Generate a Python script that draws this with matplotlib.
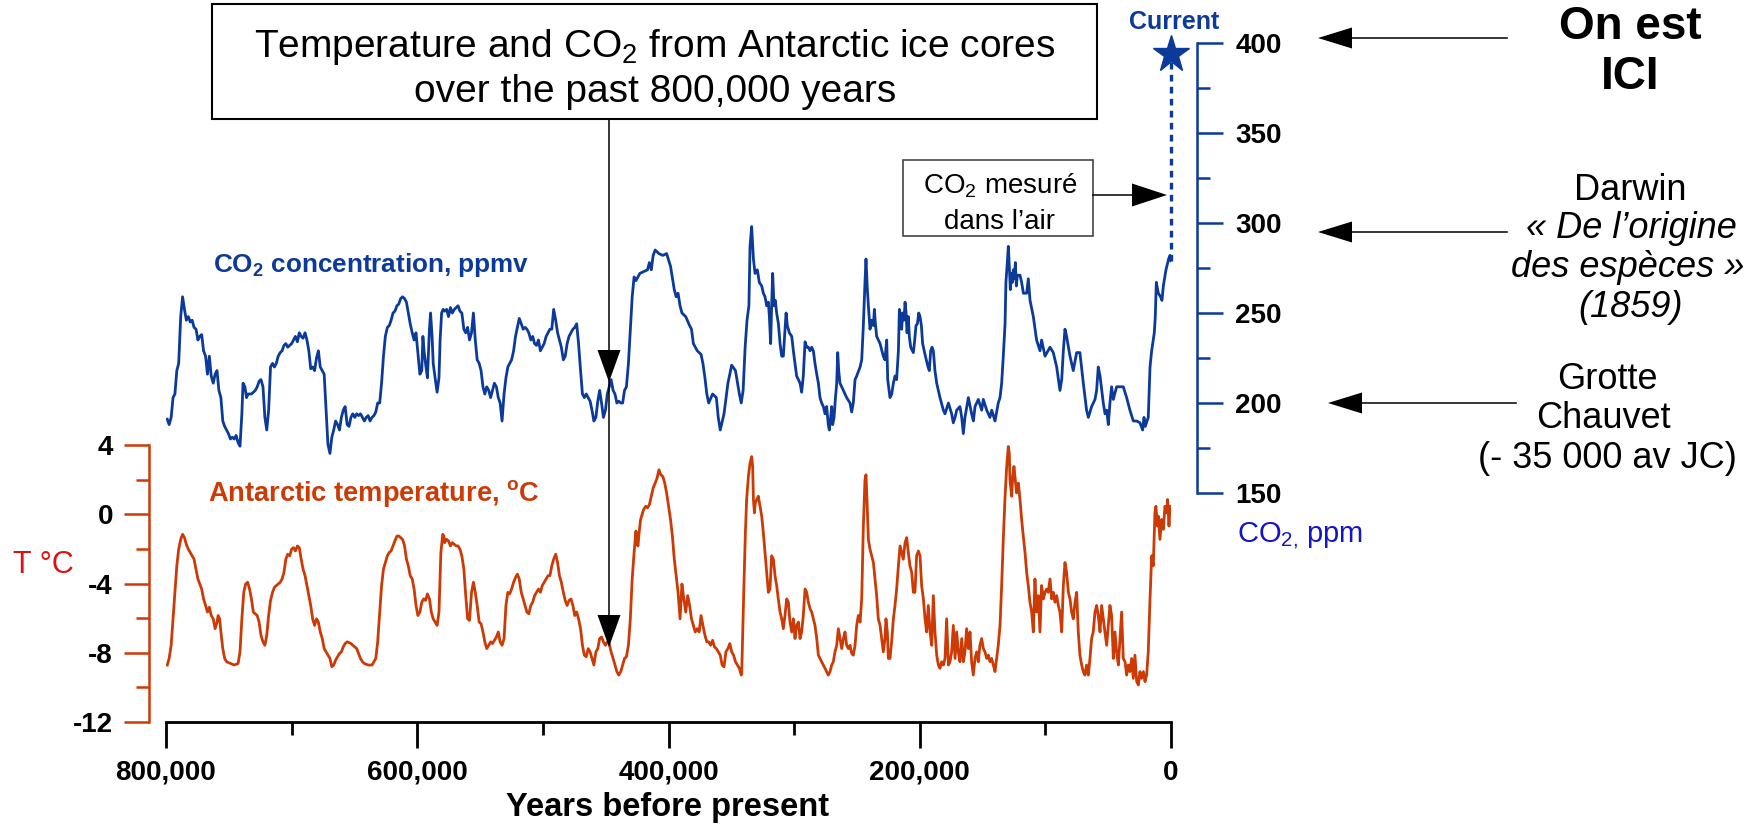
import numpy as np
import matplotlib.pyplot as plt
from matplotlib.patches import Polygon, Rectangle
from matplotlib.lines import Line2D
from matplotlib.ticker import FuncFormatter, MultipleLocator

plt.rcParams['font.family'] = ['Liberation Sans', 'DejaVu Sans']
plt.rcParams['mathtext.fontset'] = 'custom'
plt.rcParams['mathtext.rm'] = 'Liberation Sans'
plt.rcParams['mathtext.it'] = 'Liberation Sans:italic'
plt.rcParams['mathtext.bf'] = 'Liberation Sans:bold'
plt.rcParams['axes.unicode_minus'] = False

# CO2 from the ice cores, age in thousand years before present
co2_age_kyr = [
    799.0, 797.5, 795.9, 794.4, 792.9, 791.4, 789.9, 788.3, 786.8, 785.3,
    783.8, 782.2, 780.7, 779.2, 777.7, 776.1, 774.6, 773.1, 771.6, 770.1,
    768.5, 767.0, 765.5, 764.0, 762.4, 760.9, 759.4, 757.9, 756.3, 754.8,
    753.3, 751.8, 750.3, 748.7, 747.2, 745.7, 744.2, 742.6, 741.1, 739.6,
    738.7, 737.2, 735.9, 734.7, 733.5, 732.0, 730.5, 728.9, 727.4, 725.9,
    724.4, 722.8, 721.3, 719.8, 718.3, 716.8, 715.2, 713.7, 712.2, 710.7,
    709.1, 707.6, 706.1, 704.6, 703.1, 701.5, 700.0, 698.5, 697.0, 695.4,
    693.9, 692.4, 690.9, 689.3, 687.8, 686.3, 684.8, 683.3, 681.7, 680.2,
    678.7, 677.2, 675.6, 674.1, 672.6, 671.1, 669.5, 668.0, 666.5, 665.0,
    663.4, 661.9, 660.4, 658.9, 657.4, 655.8, 654.3, 652.8, 651.3, 649.7,
    648.2, 646.7, 645.2, 643.6, 642.1, 640.6, 639.1, 637.6, 636.0, 634.5,
    633.0, 631.5, 629.9, 628.4, 626.9, 625.4, 623.8, 622.3, 620.8, 619.3,
    617.8, 616.2, 614.7, 613.2, 611.7, 610.1, 608.6, 607.1, 605.6, 604.0,
    602.5, 601.0, 599.5, 597.9, 596.4, 595.5, 594.6, 593.4, 591.9, 590.3,
    589.4, 588.2, 587.3, 585.8, 584.2, 582.7, 581.8, 580.6, 579.4, 578.2,
    576.6, 575.1, 573.6, 572.1, 570.5, 569.0, 567.5, 566.0, 564.5, 562.9,
    561.4, 559.9, 558.4, 556.8, 555.3, 553.8, 552.3, 550.7, 549.2, 547.7,
    546.2, 544.7, 543.1, 541.6, 540.1, 538.6, 537.0, 535.5, 534.0, 532.5,
    530.9, 529.4, 527.9, 526.4, 524.9, 523.3, 521.8, 520.3, 518.8, 517.2,
    515.7, 514.2, 512.7, 511.2, 509.6, 508.1, 506.6, 505.1, 503.5, 502.0,
    500.5, 499.0, 497.4, 495.9, 494.4, 492.9, 491.4, 489.8, 488.3, 486.8,
    485.3, 483.7, 482.2, 480.7, 479.2, 477.6, 476.1, 474.6, 473.1, 471.6,
    470.0, 468.5, 467.0, 465.5, 463.9, 462.4, 460.9, 459.4, 457.8, 456.3,
    454.8, 453.3, 451.8, 450.2, 448.7, 447.2, 445.7, 444.1, 442.6, 441.1,
    439.6, 438.0, 436.5, 435.0, 433.5, 431.9, 430.4, 428.9, 427.4, 425.9,
    422.8, 419.8, 416.7, 415.2, 413.7, 412.2, 410.6, 407.6, 404.5, 401.5,
    398.4, 395.4, 393.9, 392.4, 390.8, 389.3, 386.3, 383.2, 381.7, 380.2,
    377.1, 374.1, 372.6, 371.0, 369.5, 368.0, 364.9, 361.9, 360.4, 358.8,
    355.8, 352.7, 349.7, 346.7, 343.6, 342.1, 340.6, 339.0, 337.5, 336.0,
    335.1, 333.8, 332.4, 331.1, 329.3, 327.7, 325.8, 324.5, 323.2, 321.8,
    320.5, 319.7, 318.7, 317.9, 317.1, 316.0, 315.0, 313.9, 312.5, 311.2,
    309.9, 308.6, 307.2, 306.4, 305.4, 303.8, 301.9, 300.6, 299.3, 298.0,
    296.6, 295.3, 294.0, 292.7, 291.3, 290.0, 288.7, 287.3, 286.0, 284.7,
    283.4, 282.0, 280.7, 279.4, 278.1, 276.7, 275.4, 274.1, 272.8, 272.0,
    270.9, 270.1, 269.3, 268.2, 267.2, 266.1, 265.3, 264.5, 263.5, 260.8,
    258.2, 255.5, 254.2, 252.9, 251.5, 250.2, 247.5, 246.2, 244.9, 243.6,
    242.8, 241.7, 240.7, 239.6, 238.3, 236.9, 236.1, 235.3, 234.3, 231.6,
    229.0, 227.7, 226.3, 225.5, 223.7, 222.3, 221.0, 219.7, 218.4, 217.0,
    216.2, 215.2, 214.4, 213.6, 212.5, 211.7, 210.9, 210.1, 209.1, 208.3,
    207.2, 205.1, 204.0, 203.0, 201.9, 200.8, 199.8, 198.7, 197.7, 195.5,
    193.4, 192.4, 191.3, 190.2, 189.2, 187.9, 186.5, 183.9, 181.2, 179.9,
    177.2, 174.6, 173.3, 171.9, 170.6, 168.0, 166.6, 165.3, 164.0, 161.3,
    158.7, 157.3, 156.0, 153.4, 150.7, 149.4, 146.7, 144.1, 142.7, 140.1,
    137.5, 136.1, 134.8, 133.5, 132.1, 131.4, 130.3, 129.5, 128.7, 127.9,
    127.1, 126.3, 125.5, 124.7, 123.9, 123.1, 122.3, 120.2, 118.9, 117.5,
    114.9, 113.6, 112.2, 109.6, 107.0, 104.3, 103.0, 100.3, 96.3, 93.7,
    91.0, 88.4, 87.0, 85.7, 84.4, 83.1, 80.4, 77.8, 75.1, 72.5,
    69.8, 67.2, 65.8, 63.2, 60.5, 59.2, 57.9, 56.5, 53.9, 52.5,
    51.2, 49.9, 48.6, 47.3, 45.9, 43.3, 38.0, 35.3, 32.7, 30.0,
    27.3, 24.7, 22.6, 21.5, 20.5, 18.1, 16.7, 15.4, 13.3, 12.5,
    11.7, 10.1, 8.3, 7.2, 6.1, 4.0, 1.9, 0.8, 0.0,
]
co2_ppm = [
    191, 188, 192, 203, 205, 218, 222, 248, 259, 252,
    246, 248, 245, 246, 242, 241, 235, 237, 238, 229,
    226, 216, 226, 215, 211, 216, 218, 207, 203, 190,
    187, 185, 183, 180, 181, 180, 182, 178, 176, 194,
    211, 209, 203, 205, 205, 205, 206, 207, 209, 212,
    213, 209, 192, 185, 196, 220, 222, 220, 222, 226,
    228, 229, 232, 233, 231, 232, 233, 235, 237, 234,
    239, 237, 236, 239, 235, 229, 219, 220, 218, 225,
    229, 220, 218, 216, 196, 177, 172, 181, 185, 190,
    188, 185, 192, 196, 198, 188, 187, 192, 194, 192,
    194, 193, 194, 192, 190, 192, 193, 190, 192, 193,
    195, 200, 200, 211, 226, 237, 242, 243, 246, 250,
    251, 254, 255, 258, 259, 258, 256, 250, 244, 239,
    235, 239, 228, 216, 218, 237, 229, 222, 214, 241,
    250, 237, 222, 214, 206, 214, 235, 250, 252, 251,
    252, 248, 253, 250, 252, 253, 254, 251, 250, 241,
    239, 242, 235, 239, 250, 235, 224, 222, 218, 209,
    205, 209, 207, 203, 207, 211, 209, 203, 200, 190,
    205, 214, 220, 222, 224, 229, 237, 242, 247, 244,
    241, 242, 241, 239, 235, 237, 233, 232, 235, 229,
    231, 233, 237, 239, 241, 241, 252, 246, 239, 235,
    231, 224, 226, 233, 237, 239, 241, 242, 244, 233,
    218, 205, 203, 205, 203, 201, 196, 190, 192, 201,
    207, 200, 192, 196, 205, 209, 213, 207, 205, 200,
    201, 200, 200, 207, 209, 222, 241, 259, 270, 268,
    272, 273, 274, 278, 274, 282, 285, 283, 282, 283,
    276, 263, 259, 261, 254, 250, 248, 243, 241, 233,
    229, 227, 222, 214, 205, 200, 205, 203, 192, 185,
    194, 211, 221, 218, 205, 200, 207, 231, 246, 254,
    287, 298, 280, 272, 274, 267, 265, 261, 259, 254,
    256, 248, 233, 254, 272, 254, 257, 250, 244, 233,
    226, 226, 241, 250, 243, 239, 237, 229, 222, 215,
    213, 211, 206, 215, 234, 231, 231, 229, 231, 229,
    222, 216, 211, 203, 200, 198, 194, 198, 188, 185,
    192, 198, 188, 192, 202, 211, 228, 218, 211, 207,
    203, 200, 195, 200, 213, 215, 220, 224, 243, 267,
    280, 263, 252, 241, 246, 243, 252, 244, 237, 233,
    226, 224, 235, 213, 203, 205, 211, 215, 213, 229,
    252, 248, 241, 250, 246, 256, 250, 239, 248, 237,
    231, 228, 235, 243, 244, 250, 248, 243, 233, 226,
    220, 218, 229, 231, 229, 218, 211, 203, 196, 194,
    200, 194, 189, 192, 196, 198, 192, 183, 192, 203,
    194, 190, 198, 202, 196, 202, 196, 192, 196, 190,
    200, 203, 211, 226, 244, 267, 278, 287, 276, 263,
    272, 267, 274, 269, 278, 265, 271, 271, 267, 261,
    261, 269, 257, 248, 235, 229, 235, 226, 231, 228,
    220, 207, 213, 229, 241, 237, 226, 218, 228, 228,
    211, 196, 192, 198, 202, 207, 220, 215, 200, 194,
    196, 188, 200, 209, 202, 209, 209, 203, 196, 190,
    190, 189, 185, 192, 187, 192, 220, 229, 239, 248,
    267, 261, 259, 257, 265, 274, 280, 282, 279,
]

# Antarctic temperature anomaly, deg C
temp_age_kyr = [
    799.0, 797.5, 795.9, 794.4, 792.9, 791.4, 789.9, 788.3, 786.8, 785.3,
    783.8, 782.2, 780.7, 779.2, 777.7, 776.1, 774.6, 773.1, 771.6, 770.1,
    768.5, 767.0, 765.5, 764.0, 762.4, 760.9, 759.4, 758.5, 757.3, 756.3,
    754.8, 753.3, 751.8, 748.7, 745.7, 742.6, 741.1, 739.6, 738.1, 736.6,
    735.0, 733.5, 732.0, 730.5, 728.9, 727.4, 725.9, 724.4, 722.8, 721.3,
    719.8, 718.3, 716.8, 715.2, 713.7, 712.2, 710.7, 709.1, 707.6, 706.1,
    704.6, 703.1, 701.5, 700.0, 698.5, 697.0, 695.4, 693.9, 692.4, 690.9,
    689.3, 687.8, 686.3, 684.8, 683.3, 681.7, 680.2, 678.7, 677.2, 675.6,
    674.1, 672.6, 671.1, 669.5, 668.0, 666.5, 665.0, 663.4, 661.9, 660.4,
    658.9, 657.4, 655.8, 654.3, 652.8, 651.3, 649.7, 648.2, 646.7, 645.2,
    643.6, 642.1, 639.1, 636.0, 634.5, 633.0, 631.5, 629.9, 628.4, 626.9,
    625.4, 623.8, 622.3, 620.8, 619.3, 617.8, 616.2, 614.7, 613.2, 611.7,
    610.1, 608.6, 607.1, 605.6, 604.0, 602.5, 601.0, 599.5, 597.9, 596.4,
    594.9, 593.4, 591.9, 590.3, 588.8, 587.3, 585.8, 584.2, 582.7, 581.2,
    579.7, 578.8, 578.2, 576.6, 575.1, 573.6, 572.1, 570.5, 569.0, 567.5,
    566.0, 564.5, 562.9, 561.4, 559.9, 558.4, 556.8, 555.3, 553.8, 552.3,
    550.7, 549.2, 547.7, 546.2, 544.7, 543.1, 541.6, 540.1, 538.6, 537.0,
    535.5, 534.0, 532.5, 530.9, 529.4, 527.9, 526.4, 524.9, 523.3, 521.8,
    520.3, 518.8, 517.2, 515.7, 514.2, 512.7, 511.2, 509.6, 508.1, 506.6,
    505.1, 503.5, 502.0, 500.5, 499.0, 497.4, 495.9, 494.4, 492.9, 491.4,
    489.8, 488.3, 486.8, 485.3, 483.7, 482.2, 480.7, 479.2, 477.6, 476.1,
    474.6, 473.1, 471.6, 470.0, 468.5, 467.0, 465.5, 463.9, 462.4, 460.9,
    459.4, 457.8, 456.3, 454.8, 453.3, 451.8, 450.2, 448.7, 447.2, 445.7,
    444.1, 442.6, 441.1, 439.6, 438.0, 436.5, 435.0, 433.5, 431.9, 430.4,
    428.9, 427.4, 425.9, 425.3, 424.3, 423.4, 422.2, 421.0, 419.8, 418.2,
    416.7, 415.2, 413.7, 412.2, 410.6, 409.1, 407.6, 406.1, 404.5, 403.0,
    401.5, 399.9, 398.4, 396.9, 395.4, 393.9, 392.4, 390.8, 389.3, 387.8,
    386.3, 384.7, 383.2, 381.7, 380.2, 378.7, 377.1, 375.6, 374.1, 372.6,
    371.0, 369.5, 368.0, 366.5, 364.9, 363.4, 361.9, 360.4, 358.8, 357.3,
    355.8, 354.3, 352.7, 351.2, 349.7, 348.2, 346.7, 345.1, 343.6, 342.1,
    341.7, 340.9, 339.9, 338.8, 337.8, 336.4, 335.1, 333.8, 333.0, 332.4,
    331.6, 330.9, 329.8, 328.5, 327.1, 325.8, 324.5, 323.2, 321.8, 320.5,
    319.2, 317.9, 316.5, 315.2, 313.9, 312.6, 311.2, 309.9, 308.6, 307.3,
    305.9, 304.6, 303.3, 301.9, 300.6, 299.3, 298.0, 296.6, 295.3, 294.0,
    292.7, 291.3, 290.0, 288.7, 287.3, 286.0, 284.7, 283.4, 282.0, 280.7,
    279.4, 278.1, 276.7, 275.4, 274.1, 272.8, 271.4, 270.1, 268.8, 267.5,
    266.1, 264.8, 263.5, 262.1, 260.8, 259.5, 258.2, 256.8, 255.5, 254.2,
    252.9, 251.5, 250.2, 248.9, 247.5, 246.2, 244.9, 243.6, 242.8, 242.2,
    240.9, 239.6, 238.3, 236.9, 235.6, 234.3, 233.0, 231.6, 230.3, 229.0,
    227.7, 226.9, 225.8, 225.0, 223.7, 222.4, 221.0, 219.7, 218.4, 217.0,
    215.7, 214.4, 213.1, 211.7, 210.4, 209.1, 207.8, 206.4, 205.1, 203.8,
    202.5, 201.1, 199.8, 198.5, 197.1, 195.8, 194.5, 193.2, 191.8, 190.5,
    189.2, 187.9, 186.5, 185.2, 183.9, 182.6, 181.2, 179.9, 178.6, 177.2,
    175.9, 174.6, 173.3, 171.9, 170.6, 169.3, 168.0, 166.6, 165.3, 164.0,
    162.7, 161.3, 160.0, 158.7, 157.4, 156.0, 154.7, 153.4, 152.1, 150.7,
    149.4, 148.1, 146.7, 145.4, 144.1, 142.8, 141.4, 140.1, 138.8, 137.5,
    136.1, 134.8, 133.5, 132.2, 130.8, 129.5, 128.7, 128.2, 126.8, 126.0,
    125.0, 123.9, 122.9, 121.5, 120.2, 118.9, 117.6, 116.2, 114.9, 113.6,
    112.3, 110.9, 109.6, 108.3, 107.0, 105.6, 104.3, 103.0, 101.6, 100.3,
    99.0, 97.7, 96.3, 95.0, 93.7, 92.4, 91.0, 89.7, 88.4, 87.0,
    85.7, 84.4, 83.1, 81.7, 80.4, 79.1, 77.8, 76.4, 75.1, 73.8,
    72.5, 71.1, 69.8, 68.5, 67.2, 65.8, 64.5, 63.2, 61.9, 60.5,
    59.2, 57.9, 56.5, 55.2, 53.9, 52.6, 51.2, 49.9, 48.6, 47.3,
    45.9, 44.6, 43.3, 41.9, 40.6, 39.3, 38.0, 36.6, 35.3, 34.0,
    32.7, 31.3, 30.0, 28.7, 27.3, 26.0, 24.7, 23.4, 22.0, 20.7,
    19.4, 18.1, 16.7, 15.4, 14.1, 12.8, 12.0, 10.9, 10.1, 8.8,
    7.5, 6.1, 4.8, 3.5, 2.7, 1.6, 0.8,
]
temp_c = [
    -8.71, -8.33, -7.57, -6.04, -4.51, -2.98, -2.02, -1.45, -1.16, -1.35,
    -1.74, -2.02, -2.21, -2.40, -2.59, -3.17, -3.74, -4.03, -4.32, -4.89,
    -5.27, -5.65, -5.37, -5.85, -6.04, -6.61, -6.23, -5.85, -6.04, -6.80,
    -7.76, -8.33, -8.52, -8.62, -8.71, -8.62, -7.95, -6.04, -4.51, -4.03,
    -3.93, -4.32, -4.89, -5.65, -5.75, -5.85, -6.23, -6.99, -7.37, -7.57,
    -6.99, -5.85, -4.98, -4.51, -4.22, -4.12, -4.03, -3.93, -3.74, -3.36,
    -2.59, -2.31, -2.40, -2.02, -1.93, -2.12, -1.83, -1.93, -2.59, -3.17,
    -3.55, -4.12, -4.70, -5.27, -6.04, -6.42, -6.04, -6.23, -6.80, -7.18,
    -7.76, -7.95, -8.14, -8.33, -8.81, -8.71, -8.43, -8.23, -8.04, -7.95,
    -7.66, -7.47, -7.37, -7.41, -7.47, -7.57, -7.66, -7.76, -8.04, -8.33,
    -8.52, -8.62, -8.71, -8.71, -8.52, -8.33, -7.37, -5.65, -4.12, -3.17,
    -2.79, -2.40, -2.21, -2.12, -1.83, -1.54, -1.26, -1.26, -1.35, -1.45,
    -1.83, -2.59, -2.98, -3.55, -3.74, -4.32, -5.27, -5.85, -5.65, -5.08,
    -4.89, -4.98, -4.60, -4.89, -5.65, -6.04, -6.23, -6.42, -5.65, -2.21,
    -1.16, -1.26, -1.64, -1.45, -1.54, -1.83, -1.64, -1.74, -1.83, -1.83,
    -2.02, -2.40, -3.17, -4.70, -6.04, -6.13, -4.51, -3.93, -4.51, -5.27,
    -6.23, -6.32, -6.80, -7.37, -7.76, -7.57, -7.37, -7.47, -7.28, -7.09,
    -6.80, -7.37, -7.57, -7.18, -5.27, -4.51, -4.60, -4.32, -3.93, -3.65,
    -3.46, -3.74, -4.51, -4.89, -5.27, -5.65, -5.75, -5.27, -5.08, -4.70,
    -4.51, -4.32, -4.51, -4.12, -3.93, -3.74, -3.55, -3.55, -2.98, -2.59,
    -2.31, -2.79, -3.55, -3.93, -4.51, -4.98, -5.27, -4.98, -4.89, -5.27,
    -5.85, -5.65, -6.04, -6.61, -7.57, -8.14, -8.23, -7.76, -7.95, -8.33,
    -8.71, -7.95, -7.76, -7.18, -7.09, -7.37, -7.57, -7.37, -7.47, -7.95,
    -8.33, -8.71, -9.09, -9.29, -9.09, -8.71, -8.33, -8.23, -7.57, -6.04,
    -3.74, -2.21, -0.97, -1.64, -1.83, -1.07, -0.30, -0.01, 0.27, 0.46,
    0.37, 0.56, 1.04, 1.52, 1.80, 2.09, 2.57, 2.28, 2.18, 1.80,
    1.23, 0.46, -0.30, -1.26, -2.59, -3.55, -4.51, -6.04, -4.03, -4.89,
    -5.65, -4.70, -5.27, -6.04, -6.42, -6.80, -6.61, -6.80, -5.85, -6.42,
    -6.99, -7.37, -7.37, -7.57, -7.28, -7.66, -7.76, -7.95, -8.14, -8.71,
    -8.81, -7.95, -7.76, -7.47, -7.95, -8.14, -8.52, -8.71, -8.90, -9.29,
    -9.09, -6.80, -3.93, -1.07, 0.85, 2.18, 2.95, 3.33, 2.76, 0.85,
    0.08, 0.65, 0.85, 1.04, 0.46, -0.11, -1.07, -2.21, -3.36, -4.51,
    -4.32, -2.40, -2.60, -3.55, -4.12, -4.89, -5.65, -6.04, -6.61, -5.85,
    -4.89, -5.08, -6.23, -6.80, -6.04, -7.18, -6.42, -6.23, -7.18, -6.80,
    -5.85, -4.32, -4.51, -5.08, -5.46, -5.65, -6.04, -6.42, -7.18, -8.14,
    -8.33, -8.52, -8.71, -8.90, -9.09, -9.29, -9.09, -8.71, -8.52, -7.95,
    -7.57, -6.61, -7.18, -7.76, -7.18, -6.80, -7.57, -7.76, -7.57, -8.04,
    -8.14, -7.57, -6.42, -5.85, -6.23, -4.89, -0.68, 1.99, 2.28, 1.23,
    -1.45, -2.02, -2.40, -2.79, -3.74, -4.70, -6.04, -6.42, -7.18, -7.95,
    -7.18, -6.04, -6.80, -8.33, -8.33, -7.37, -6.04, -5.27, -4.32, -2.98,
    -1.83, -2.21, -2.60, -1.64, -1.35, -2.21, -2.98, -3.36, -4.51, -4.51,
    -2.40, -2.12, -2.40, -4.12, -4.89, -6.04, -6.80, -5.27, -6.80, -7.57,
    -4.70, -6.80, -8.14, -8.71, -8.90, -8.52, -8.71, -8.33, -6.04, -8.71,
    -8.52, -7.95, -6.42, -8.33, -6.80, -7.95, -8.52, -7.18, -8.52, -7.95,
    -6.61, -7.76, -6.80, -8.52, -9.29, -8.33, -7.95, -8.52, -7.57, -7.18,
    -7.76, -7.95, -8.33, -8.14, -8.52, -8.33, -8.71, -9.09, -8.33, -7.57,
    -6.42, -4.12, -1.45, 0.85, 2.76, 3.91, 3.52, 1.99, 1.04, 2.18,
    2.76, 1.99, 1.23, 1.80, 0.85, -0.30, -1.26, -2.21, -3.36, -4.12,
    -5.08, -5.65, -6.80, -3.74, -5.65, -4.70, -6.80, -4.12, -4.89, -4.51,
    -4.32, -4.51, -3.74, -4.89, -4.51, -5.08, -4.70, -5.27, -5.65, -6.80,
    -4.12, -2.79, -3.36, -4.51, -4.89, -5.65, -6.04, -5.08, -4.51, -6.80,
    -8.14, -8.71, -9.09, -9.29, -8.71, -9.29, -8.33, -7.18, -6.80, -5.65,
    -5.27, -5.85, -6.80, -5.27, -6.04, -6.80, -7.57, -6.42, -5.27, -5.85,
    -8.33, -6.80, -7.95, -8.71, -7.18, -5.65, -8.33, -8.52, -9.29, -8.71,
    -9.09, -8.33, -9.48, -8.14, -9.67, -9.86, -9.09, -9.48, -9.09, -9.67,
    -9.29, -7.95, -4.89, -2.40, -2.98, 0.08, 0.46, -0.68, -0.11, -1.45,
    -0.30, -0.87, 0.46, 0.08, 0.85, -0.68, 0.46,
]

current_co2 = 394
x_major = [0, 200000, 400000, 600000, 800000]
x_minor = [100000, 300000, 500000, 700000]
t_major = [-12, -8, -4, 0, 4]
c_major = [150, 200, 250, 300, 350, 400]

BLUE = '#0b3a9a'
ORANGE = '#cc3a06'

W, H = 1755, 824
fig = plt.figure(figsize=(W / 100, H / 100), dpi=100)
fig.patch.set_facecolor('white')


def fx(x):
    return x / W


def fy(y):
    return 1 - y / H


def line(x0, y0, x1, y1, **kw):
    fig.add_artist(Line2D([fx(x0), fx(x1)], [fy(y0), fy(y1)],
                          transform=fig.transFigure, color='black', lw=1.1, **kw))


def head(tx, ty, dx, dy, length=33, half=11):
    bx, by = tx - dx * length, ty - dy * length
    px, py = -dy, dx
    pts = [(tx, ty), (bx + px * half, by + py * half), (bx - px * half, by - py * half)]
    fig.add_artist(Polygon([(fx(a), fy(b)) for a, b in pts], closed=True,
                           transform=fig.transFigure, color='black', lw=0))


def text(x, y, s, **kw):
    fig.text(fx(x), fy(y), s, va='baseline', **kw)


X0, X1 = 166, 1171
span = X1 - X0

# temperature axes (also carries the year axis)
ax_t = fig.add_axes([fx(X0), fy(722), span / W, (722 - 445) / H])
ax_t.plot(np.array(temp_age_kyr) * 1000, temp_c, color=ORANGE, lw=2.0)
ax_t.set_xlim(800000, 0)
ax_t.set_ylim(-12, 4)
ax_t.patch.set_visible(False)
for s in ['top', 'right']:
    ax_t.spines[s].set_visible(False)
ax_t.spines['left'].set_position(('axes', -(X0 - 149) / span))
ax_t.spines['left'].set_color(ORANGE)
ax_t.spines['left'].set_linewidth(1.8)
ax_t.spines['bottom'].set_linewidth(2.0)
ax_t.set_xticks(x_major)
ax_t.set_xticks(x_minor, minor=True)
ax_t.xaxis.set_major_formatter(FuncFormatter(lambda v, p: f"{int(v):,}"))
ax_t.set_yticks(t_major)
ax_t.yaxis.set_minor_locator(MultipleLocator(2))
ax_t.tick_params(axis='x', which='major', length=19, width=2, pad=8, labelsize=20)
ax_t.tick_params(axis='x', which='minor', length=9.5, width=2)
ax_t.tick_params(axis='y', which='major', length=18, width=1.8, color=ORANGE,
                 pad=8, labelsize=20)
ax_t.tick_params(axis='y', which='minor', length=9.5, width=1.8, color=ORANGE)
for lab in ax_t.get_xticklabels() + ax_t.get_yticklabels():
    lab.set_fontweight('bold')

# CO2 axes
ax_c = fig.add_axes([fx(X0), fy(493), span / W, (493 - 43) / H])
ax_c.plot(np.array(co2_age_kyr) * 1000, co2_ppm, color=BLUE, lw=2.0)
ax_c.plot([0, 0], [co2_ppm[-1], current_co2], color=BLUE, lw=2.4,
          ls=(0, (2, 1.6)), clip_on=False)
ax_c.plot([0], [current_co2], marker='*', ms=28, color=BLUE, clip_on=False)
ax_c.set_xlim(800000, 0)
ax_c.set_ylim(150, 400)
ax_c.patch.set_visible(False)
for s in ['top', 'left', 'bottom']:
    ax_c.spines[s].set_visible(False)
ax_c.spines['right'].set_position(('axes', 1 + (1197 - X1) / span))
ax_c.spines['right'].set_color(BLUE)
ax_c.spines['right'].set_linewidth(1.8)
ax_c.set_yticks(c_major)
ax_c.yaxis.set_minor_locator(MultipleLocator(25))
ax_c.tick_params(axis='x', bottom=False, labelbottom=False)
ax_c.tick_params(axis='y', which='both', left=False, labelleft=False,
                 right=True, labelright=True, color=BLUE, width=1.8)
ax_c.tick_params(axis='y', which='major', length=18.5, pad=9, labelsize=20)
ax_c.tick_params(axis='y', which='minor', length=9.5)
for lab in ax_c.get_yticklabels():
    lab.set_fontweight('bold')

# title box with its arrow
fig.add_artist(Rectangle((fx(212), fy(119)), (1097 - 212) / W, 115 / H,
                         transform=fig.transFigure, fill=False, ec='black', lw=1.5))
text(655, 57, r"Temperature and CO$_2$ from Antarctic ice cores", ha='center', fontsize=28)
text(655, 102, "over the past 800,000 years", ha='center', fontsize=28)
line(609, 119, 609, 640)
head(609, 382, 0, 1, length=32, half=11.5)
head(609, 647, 0, 1, length=32, half=11.5)

# series labels
text(213, 272, r"CO$_{\mathbf{2}}$ concentration, ppmv", fontsize=18.8,
     fontweight='bold', color=BLUE)
text(208, 501, r"Antarctic temperature, $^{\mathbf{o}}$C", fontsize=19.6,
     fontweight='bold', color=ORANGE)
text(13, 573, "T °C", fontsize=22, color='#dd1111')
text(1237, 543, r"CO$_{2,}\,$ppm", fontsize=21, color='#1414c8')
text(1174, 29, "Current", ha='center', fontsize=18, fontweight='bold', color=BLUE)
text(668, 816, "Years before present", ha='center', fontsize=23.5, fontweight='bold')

# measured CO2 box
fig.add_artist(Rectangle((fx(903), fy(236)), 190 / W, 76 / H,
                         transform=fig.transFigure, fill=False, ec='#444444', lw=1.2))
text(1000, 193, r"CO$_2$ mesuré", ha='center', fontsize=20)
text(1000, 229, "dans l’air", ha='center', fontsize=20)
line(1093, 195, 1140, 195)
head(1167, 195, 1, 0, length=35, half=11.5)

# right-hand notes
text(1630, 39, "On est", ha='center', fontsize=33, fontweight='bold')
text(1630, 89, "ICI", ha='center', fontsize=33, fontweight='bold')
line(1507, 38, 1340, 38)
head(1318, 38, -1, 0, length=34, half=10.5)

text(1630, 200, "Darwin", ha='center', fontsize=26)
text(1631, 238, "« De l’origine", ha='center', fontsize=26, style='italic')
text(1628, 277, "des espèces »", ha='center', fontsize=26, style='italic')
text(1631, 317, "(1859)", ha='center', fontsize=26, style='italic')
line(1507, 232, 1340, 232)
head(1318, 232, -1, 0, length=34, half=10.5)

text(1607, 389, "Grotte", ha='center', fontsize=26)
text(1603, 428, "Chauvet", ha='center', fontsize=26)
text(1607, 468, "(- 35 000 av JC)", ha='center', fontsize=26)
line(1516, 403, 1350, 403)
head(1328, 403, -1, 0, length=34, half=10.5)

fig.savefig('out.png', dpi=100)
